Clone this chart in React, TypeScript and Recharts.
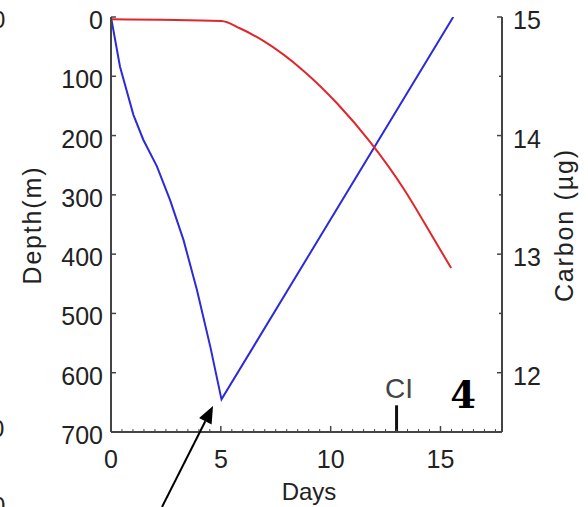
import React from "react";
import { ComposedChart, Line, XAxis, YAxis, ReferenceLine } from "recharts";

// depth profile (blue, left axis)
const depthDays = [0, 0.41, 1.02, 1.47, 2.09, 2.69, 3.3, 3.91, 4.52, 5.03, 15.58];
const depthValues = [0, 84, 165, 207, 252, 309, 376, 460, 556, 645, 0];

// carbon (red, right axis)
const carbonDays = [0, 5.02, 5.89, 6.94, 8.77, 10.32, 11.83, 13.33, 14.7, 15.48];
const carbonValues = [14.98, 14.966, 14.903, 14.798, 14.545, 14.266, 13.938, 13.55, 13.128, 12.884];

const dayTicks = [0, 0.5, 1, 1.5, 2, 2.5, 3, 3.5, 4, 4.5, 5, 5.5, 6, 6.5, 7, 7.5, 8, 8.5, 9, 9.5, 10, 10.5, 11, 11.5, 12, 12.5, 13, 13.5, 14, 14.5, 15, 15.5, 16, 16.5, 17, 17.5];
const depthTicks = [0, 100, 200, 300, 400, 500, 600, 700];
const carbonTicks = [12, 12.5, 13, 13.5, 14, 14.5, 15];

const clDay = 13;

const depthData = depthDays.map((d, i) => ({ day: d, depth: depthValues[i] }));
const carbonData = carbonDays.map((d, i) => ({ day: d, carbon: carbonValues[i] }));

const AXIS = "#444";
const TXT = "#222";

const BottomTick = (props: any) => {
  const { x, y, payload } = props;
  const major = payload.value % 5 === 0;
  return (
    <g>
      <line x1={x} x2={x} y1={y} y2={y - (major ? 6 : 3)} stroke={AXIS} strokeWidth={major ? 1.5 : 1} />
      {major && (
        <text x={x} y={y + 36} textAnchor="middle" fontSize={25} fill={TXT}>
          {payload.value}
        </text>
      )}
    </g>
  );
};

const TopTick = (props: any) => {
  const { x, y, payload } = props;
  const major = payload.value % 5 === 0;
  return <line x1={x} x2={x} y1={y} y2={y + (major ? 6 : 3)} stroke={AXIS} strokeWidth={major ? 1.5 : 1} />;
};

const LeftTick = (props: any) => {
  const { x, y, payload } = props;
  return (
    <g>
      <line x1={x} x2={x + 5} y1={y} y2={y} stroke={AXIS} strokeWidth={1.5} />
      <text x={x - 8} y={y + 12} textAnchor="end" fontSize={25} fill={TXT}>
        {payload.value}
      </text>
    </g>
  );
};

const RightTick = (props: any) => {
  const { x, y, payload } = props;
  const major = payload.value % 1 === 0;
  return (
    <g>
      <line x1={x} x2={x - (major ? 5 : 3)} y1={y} y2={y} stroke={AXIS} strokeWidth={1.5} />
      {major && (
        <text x={x + 11} y={y + 12} textAnchor="start" fontSize={25} fill={TXT}>
          {payload.value}
        </text>
      )}
    </g>
  );
};

export default function App() {
  return (
    <div
      style={{
        position: "absolute",
        left: 0,
        top: 0,
        width: 588,
        height: 507,
        background: "#fff",
        fontFamily: "'Liberation Sans', Arial, sans-serif",
        overflow: "hidden",
      }}
    >
      <ComposedChart width={588} height={507} margin={{ top: 17, right: 46, bottom: 45, left: 51 }}>
        <XAxis
          dataKey="day"
          type="number"
          domain={[0, 17.8]}
          ticks={dayTicks}
          interval={0}
          tickSize={0}
          tickMargin={0}
          tick={<BottomTick />}
          height={30}
          axisLine={{ stroke: AXIS, strokeWidth: 2 }}
          allowDataOverflow
        />
        <XAxis
          xAxisId="top"
          orientation="top"
          type="number"
          domain={[0, 17.8]}
          ticks={dayTicks}
          interval={0}
          tickSize={0}
          tickMargin={0}
          tick={<TopTick />}
          height={0}
          axisLine={{ stroke: AXIS, strokeWidth: 2 }}
          allowDataOverflow
        />
        <YAxis
          yAxisId="depth"
          type="number"
          domain={[0, 700]}
          reversed
          ticks={depthTicks}
          interval={0}
          tickSize={0}
          tickMargin={0}
          tick={<LeftTick />}
          width={60}
          axisLine={{ stroke: AXIS, strokeWidth: 2 }}
          allowDataOverflow
        />
        <YAxis
          yAxisId="carbon"
          orientation="right"
          type="number"
          domain={[11.5, 15]}
          ticks={carbonTicks}
          interval={0}
          tickSize={0}
          tickMargin={0}
          tick={<RightTick />}
          width={40}
          axisLine={{ stroke: AXIS, strokeWidth: 2 }}
          allowDataOverflow
        />
        <ReferenceLine
          yAxisId="depth"
          segment={[
            { x: clDay, y: 700 },
            { x: clDay, y: 655 },
          ]}
          stroke="#111"
          strokeWidth={3}
        />
        <Line
          data={depthData}
          dataKey="depth"
          yAxisId="depth"
          type="linear"
          stroke="#2b2bd9"
          strokeWidth={2}
          dot={false}
          isAnimationActive={false}
        />
        <Line
          data={carbonData}
          dataKey="carbon"
          yAxisId="carbon"
          type="monotone"
          stroke="#e0262b"
          strokeWidth={2}
          dot={false}
          isAnimationActive={false}
        />
      </ComposedChart>
      <svg
        width={588}
        height={507}
        style={{ position: "absolute", left: 0, top: 0, pointerEvents: "none" }}
      >
        <text transform="translate(41,226) rotate(-90)" textAnchor="middle" fontSize={25} fill={TXT} textLength={117} lengthAdjust="spacing">
          Depth(m)
        </text>
        <text transform="translate(573,226) rotate(-90)" textAnchor="middle" fontSize={25} fill={TXT} textLength={152} lengthAdjust="spacing">
          Carbon (µg)
        </text>
        <text x={309} y={500} textAnchor="middle" fontSize={24} fill={TXT}>
          Days
        </text>
        <text x={399} y={398} textAnchor="middle" fontSize={28} fill="#444">
          CI
        </text>
        <text
          x={463}
          y={408}
          textAnchor="middle"
          fontSize={37}
          fill="#000"
          style={{ fontFamily: "'DejaVu Serif', 'Liberation Serif', serif", fontWeight: 700 }}
        >
          4
        </text>
        <line x1={162} y1={507} x2={205.3} y2={421.2} stroke="#000" strokeWidth={2} />
        <polygon points="213,406 211.6,424.4 199.1,418" fill="#000" />
        <text x={-8} y={28} fontSize={24} fill={TXT}>0</text>
        <text x={-9} y={437} fontSize={24} fill={TXT}>0</text>
        <text x={-8} y={514} fontSize={24} fill={TXT}>0</text>
      </svg>
    </div>
  );
}
